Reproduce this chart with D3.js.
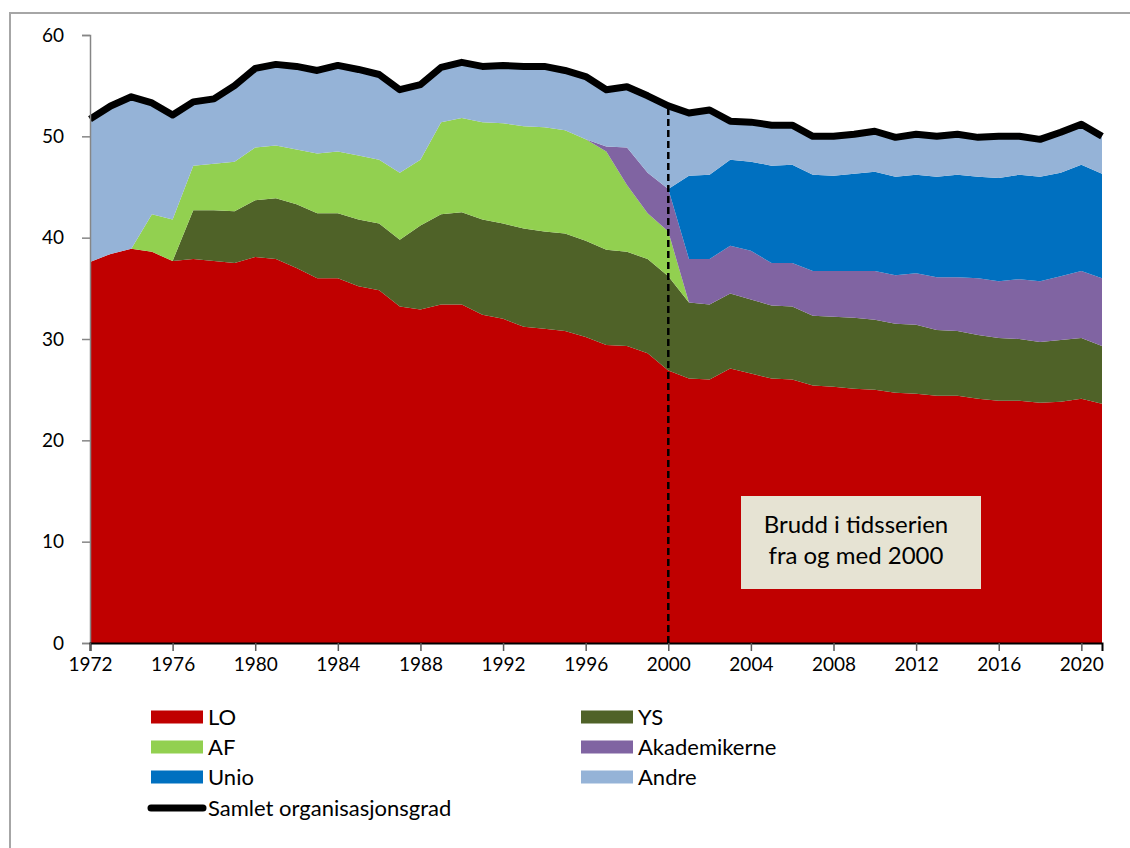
<!DOCTYPE html>
<html>
<head>
<meta charset="utf-8">
<script src="https://cdn.jsdelivr.net/npm/d3@7"></script>
<style>
  body { margin: 0; background: #fff; }
  svg text { font-family: Lato, "Open Sans", sans-serif; fill: #000; }
</style>
</head>
<body>
<div id="chart"></div>
<script>
// Organisasjonsgrad etter hovedorganisasjon, 1972-2021
const years = d3.range(1972, 2022);

const lo = [37.6, 38.4, 38.9, 38.6, 37.7, 37.9, 37.7, 37.5, 38.1, 37.9,
  37.0, 36.0, 36.0, 35.2, 34.8, 33.2, 32.9, 33.4, 33.4, 32.4,
  32.0, 31.2, 31.0, 30.8, 30.2, 29.4, 29.3, 28.6, 26.9, 26.1,
  26.0, 27.1, 26.6, 26.1, 26.0, 25.4, 25.3, 25.1, 25.0, 24.7,
  24.6, 24.4, 24.4, 24.1, 23.9, 23.9, 23.7, 23.8, 24.1, 23.6];

const ys = [0, 0, 0, 0, 0, 4.8, 5.0, 5.1, 5.6, 6.0,
  6.3, 6.4, 6.4, 6.6, 6.6, 6.6, 8.3, 8.9, 9.1, 9.4,
  9.4, 9.7, 9.6, 9.6, 9.5, 9.4, 9.3, 9.3, 9.3, 7.5,
  7.4, 7.4, 7.3, 7.2, 7.2, 6.9, 6.9, 7.0, 6.9, 6.8,
  6.8, 6.5, 6.4, 6.3, 6.2, 6.1, 6.0, 6.1, 6.0, 5.7];

const af = [0, 0, 0, 3.7, 4.1, 4.4, 4.6, 4.9, 5.2, 5.2,
  5.4, 5.9, 6.1, 6.3, 6.3, 6.6, 6.5, 9.1, 9.3, 9.6,
  9.9, 10.1, 10.3, 10.2, 10.0, 9.7, 6.6, 4.5, 4.4, 0,
  0, 0, 0, 0, 0, 0, 0, 0, 0, 0,
  0, 0, 0, 0, 0, 0, 0, 0, 0, 0];

const akademikerne = [0, 0, 0, 0, 0, 0, 0, 0, 0, 0,
  0, 0, 0, 0, 0, 0, 0, 0, 0, 0,
  0, 0, 0, 0, 0, 0.5, 3.7, 4.0, 4.2, 4.3,
  4.5, 4.7, 4.8, 4.2, 4.3, 4.4, 4.5, 4.6, 4.8, 4.8,
  5.1, 5.2, 5.3, 5.6, 5.6, 5.9, 6.0, 6.3, 6.6, 6.7];

const unio = [0, 0, 0, 0, 0, 0, 0, 0, 0, 0,
  0, 0, 0, 0, 0, 0, 0, 0, 0, 0,
  0, 0, 0, 0, 0, 0, 0, 0, 0, 8.2,
  8.3, 8.5, 8.8, 9.6, 9.7, 9.5, 9.4, 9.6, 9.8, 9.7,
  9.7, 9.9, 10.1, 10.0, 10.2, 10.3, 10.3, 10.2, 10.5, 10.3];

const andre = [14.1, 14.6, 15.0, 11.0, 10.3, 6.3, 6.4, 7.5, 7.8, 8.0,
  8.2, 8.2, 8.5, 8.5, 8.4, 8.2, 7.4, 5.4, 5.5, 5.5,
  5.7, 5.9, 6.0, 5.9, 6.2, 5.6, 6.0, 7.6, 8.2, 6.2,
  6.4, 3.8, 3.9, 4.0, 3.9, 3.8, 3.9, 3.9, 4.0, 3.9,
  4.0, 4.0, 4.0, 3.9, 4.1, 3.8, 3.7, 4.0, 4.0, 3.7];

const samlet = [51.7, 53.0, 53.9, 53.3, 52.1, 53.4, 53.7, 55.0, 56.7, 57.1,
  56.9, 56.5, 57.0, 56.6, 56.1, 54.6, 55.1, 56.8, 57.3, 56.9,
  57.0, 56.9, 56.9, 56.5, 55.9, 54.6, 54.9, 54.0, 53.0, 52.3,
  52.6, 51.5, 51.4, 51.1, 51.1, 50.0, 50.0, 50.2, 50.5, 49.9,
  50.2, 50.0, 50.2, 49.9, 50.0, 50.0, 49.7, 50.4, 51.2, 50.0];

const seriesNames = ['LO', 'YS', 'AF', 'Akademikerne', 'Unio', 'Andre'];
const seriesColors = ['#c00000', '#4f6228', '#92d050', '#8064a2', '#0070c0', '#95b3d7'];
const seriesValues = [lo, ys, af, akademikerne, unio, andre];
const lineName = 'Samlet organisasjonsgrad';

const xTicks = d3.range(1972, 2022, 4);
const yTicks = [0, 10, 20, 30, 40, 50, 60];
const breakYear = 2000;
const noteLines = ['Brudd i tidsserien', 'fra og med 2000'];

const width = 1130;
const height = 848;

const svg = d3.select('#chart')
  .append('svg')
  .attr('width', width)
  .attr('height', height);

// outer frame (only left and top visible)
svg.append('path')
  .attr('d', 'M10,848 V13 H1130')
  .attr('fill', 'none')
  .attr('stroke', '#a6a6a6')
  .attr('stroke-width', 2);

const x = d3.scaleLinear().domain([1972, 2021]).range([90, 1102]);
const y = d3.scaleLinear().domain([0, 60]).range([643, 35]);

// stacked areas
const table = years.map((yr, i) => {
  const row = { year: yr };
  seriesNames.forEach((n, j) => { row[n] = seriesValues[j][i]; });
  return row;
});

const stack = d3.stack().keys(seriesNames);
const layers = stack(table);

const area = d3.area()
  .x(d => x(d.data.year))
  .y0(d => y(d[0]))
  .y1(d => y(d[1]));

svg.append('g')
  .selectAll('path')
  .data(layers)
  .enter()
  .append('path')
  .attr('d', area)
  .attr('fill', (d, i) => seriesColors[i]);

// break line
const bi = years.indexOf(breakYear);
svg.append('line')
  .attr('x1', x(breakYear))
  .attr('x2', x(breakYear))
  .attr('y1', y(0))
  .attr('y2', y(samlet[bi]))
  .attr('stroke', '#000')
  .attr('stroke-width', 2.5)
  .attr('stroke-dasharray', '7,4');

// total line
const line = d3.line()
  .x((d, i) => x(years[i]))
  .y(d => y(d));

svg.append('path')
  .datum(samlet)
  .attr('d', line)
  .attr('fill', 'none')
  .attr('stroke', '#000')
  .attr('stroke-width', 7)
  .attr('stroke-linejoin', 'round');

// y axis
const yAxis = svg.append('g')
  .attr('transform', `translate(${x(1972)},0)`)
  .call(d3.axisLeft(y).tickValues(yTicks).tickSize(8).tickPadding(18));
yAxis.select('.domain').attr('stroke', '#868686').attr('stroke-width', 1.5);
yAxis.selectAll('.tick line').attr('stroke', '#868686').attr('stroke-width', 1.5);
yAxis.selectAll('text').style('font-size', '19px').attr('fill', '#000');

// x axis
const xAxis = svg.append('g')
  .attr('transform', `translate(0,${y(0)})`)
  .call(d3.axisBottom(x).tickValues(xTicks).tickFormat(d3.format('d')).tickSize(8).tickPadding(7));
xAxis.select('.domain').attr('stroke', '#000').attr('stroke-width', 2);
xAxis.selectAll('.tick line').attr('stroke', '#595959').attr('stroke-width', 1.5);
xAxis.selectAll('text').style('font-size', '19px').attr('fill', '#000');

// note box
const note = svg.append('g');
note.append('rect')
  .attr('x', 741)
  .attr('y', 496)
  .attr('width', 240)
  .attr('height', 93)
  .attr('fill', '#e6e3d3');
note.selectAll('text')
  .data(noteLines)
  .enter()
  .append('text')
  .attr('x', 856)
  .attr('y', (d, i) => 533 + i * 31)
  .attr('text-anchor', 'middle')
  .style('font-size', '24px')
  .text(d => d);

// legend
const legend = svg.append('g');
const legendItems = seriesNames.map((n, i) => ({ name: n, color: seriesColors[i] }));
legendItems.forEach((d, i) => {
  const col = i % 2;
  const row = Math.floor(i / 2);
  const lx = col === 0 ? 151 : 581;
  const ly = 717 + row * 30;
  legend.append('rect')
    .attr('x', lx)
    .attr('y', ly - 6.5)
    .attr('width', 52)
    .attr('height', 13)
    .attr('fill', d.color);
  legend.append('text')
    .attr('x', lx + 57)
    .attr('y', ly + 8)
    .style('font-size', '22px')
    .text(d.name);
});
legend.append('line')
  .attr('x1', 151)
  .attr('x2', 203)
  .attr('y1', 808)
  .attr('y2', 808)
  .attr('stroke', '#000')
  .attr('stroke-width', 7)
  .attr('stroke-linecap', 'round');
legend.append('text')
  .attr('x', 208)
  .attr('y', 816)
  .style('font-size', '22px')
  .text(lineName);
</script>
</body>
</html>
